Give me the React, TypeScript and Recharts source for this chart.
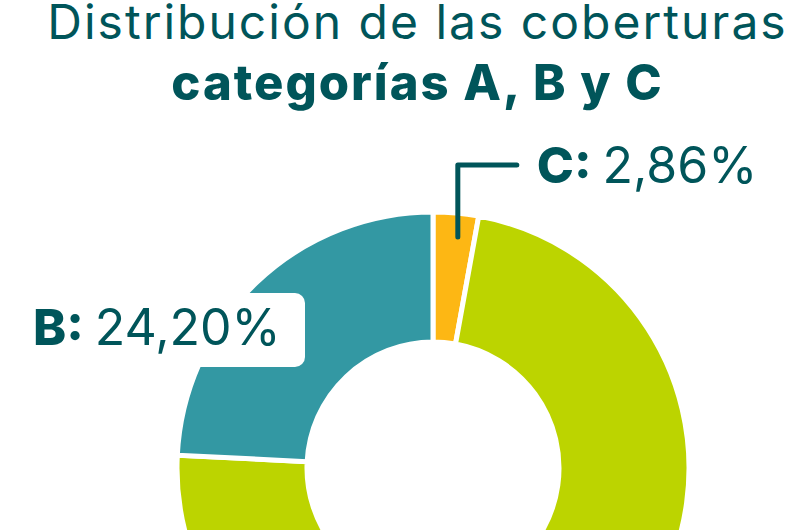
import { PieChart, Pie, Cell } from 'recharts'

const categories = ['C', 'A', 'B']
const shares = [2.86, 72.94, 24.2]
const labels = ['2,86%', '', '24,20%']
const colors = ['#FDB714', '#BCD400', '#3398A3']

const data = categories.map((name, i) => ({ name, value: shares[i], text: labels[i] }))

const ink = '#00555A'
const font = 'Inter, "Noto Sans", sans-serif'

const RAD = Math.PI / 180

function renderLabel(props: any) {
  const { cx, cy, midAngle, outerRadius, index } = props
  const d = data[index]
  if (d.name === 'C') {
    const sx = cx + 4 + (outerRadius - 24) * Math.cos(-midAngle * RAD)
    const sy = cy + (outerRadius - 24) * Math.sin(-midAngle * RAD)
    const ty = cy - 303
    return (
      <g>
        <polyline
          points={`${sx},${sy} ${sx},${ty} ${sx + 59},${ty}`}
          fill="none" stroke={ink} strokeWidth={5} strokeLinecap="round" strokeLinejoin="round"
        />
        <text x={sx + 79} y={ty + 18} fill={ink} fontFamily={font} fontSize={50}>
          <tspan fontWeight={800}>{d.name}: </tspan>
          <tspan fontWeight={400}>{d.text}</tspan>
        </text>
      </g>
    )
  }
  if (d.name === 'B') {
    return (
      <g>
        <rect x={cx - 425} y={cy - 175} width={297} height={74} rx={10} fill="#fff" />
        <text x={cx - 400} y={cy - 123} fill={ink} fontFamily={font} fontSize={50}>
          <tspan fontWeight={800}>{d.name}: </tspan>
          <tspan fontWeight={400}>{d.text}</tspan>
        </text>
      </g>
    )
  }
  return null
}

export default function App() {
  return (
    <div style={{ position: 'absolute', left: 0, top: 0, width: 793, height: 530, overflow: 'hidden', background: '#fff' }}>
      <PieChart width={793} height={530} margin={{ top: 0, right: 0, bottom: 0, left: 0 }}>
        <Pie
          data={data} dataKey="value" nameKey="name"
          cx={433} cy={468} innerRadius={126} outerRadius={256}
          startAngle={90} endAngle={-270}
          stroke="#fff" strokeWidth={5}
          label={renderLabel} labelLine={false}
          isAnimationActive={false}
        >
          {data.map((d, i) => <Cell key={d.name} fill={colors[i]} />)}
        </Pie>
      </PieChart>
      <div style={{ position: 'absolute', left: 0, top: -9, width: 835, textAlign: 'center', color: ink, fontFamily: font, lineHeight: '61px' }}>
        <div style={{ fontSize: 48, fontWeight: 400, letterSpacing: 2 }}>Distribución de las coberturas</div>
        <div style={{ fontSize: 49, fontWeight: 800, letterSpacing: 2 }}>categorías A, B y C</div>
      </div>
    </div>
  )
}
